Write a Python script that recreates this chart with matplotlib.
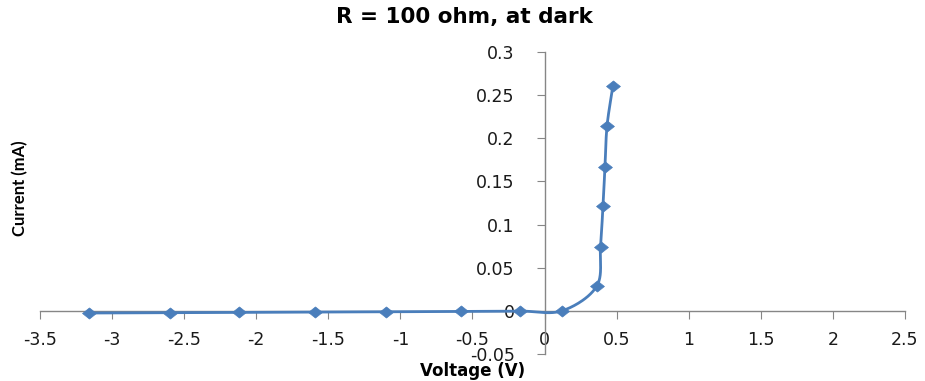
import numpy as np
import matplotlib
matplotlib.use("Agg")
import matplotlib.pyplot as plt

plt.rcParams["axes.unicode_minus"] = False

voltage = [-3.16, -2.60, -2.12, -1.59, -1.10, -0.58, -0.17, 0.12, 0.363, 0.388, 0.405, 0.419, 0.433, 0.474]
current = [-0.0025, -0.0022, -0.0018, -0.0013, -0.0011, -0.0006, -0.0002, 0.0, 0.029, 0.074, 0.121, 0.167, 0.214, 0.261]

title = "R = 100 ohm, at dark"
xlabel = "Voltage (V)"
ylabel = "Current (mA)"
xticks = np.arange(-3.5, 2.51, 0.5)
yticks = np.arange(-0.05, 0.301, 0.05)

FONT = "DejaVu Sans"
COLOR = "#4A7EBB"


def centripetal_cr(x, y, sx, sy, n=40, alpha=0.5):
    p = np.column_stack([np.asarray(x) * sx, np.asarray(y) * sy])
    p = np.vstack([2 * p[0] - p[1], p, 2 * p[-1] - p[-2]])
    out = []
    for i in range(1, len(p) - 2):
        P0, P1, P2, P3 = p[i - 1], p[i], p[i + 1], p[i + 2]
        t0 = 0.0
        t1 = t0 + np.linalg.norm(P1 - P0) ** alpha
        t2 = t1 + np.linalg.norm(P2 - P1) ** alpha
        t3 = t2 + np.linalg.norm(P3 - P2) ** alpha
        t = np.linspace(t1, t2, n)[:, None]
        A1 = (t1 - t) / (t1 - t0) * P0 + (t - t0) / (t1 - t0) * P1
        A2 = (t2 - t) / (t2 - t1) * P1 + (t - t1) / (t2 - t1) * P2
        A3 = (t3 - t) / (t3 - t2) * P2 + (t - t2) / (t3 - t2) * P3
        B1 = (t2 - t) / (t2 - t0) * A1 + (t - t0) / (t2 - t0) * A2
        B2 = (t3 - t) / (t3 - t1) * A2 + (t - t1) / (t3 - t1) * A3
        C = (t2 - t) / (t2 - t1) * B1 + (t - t1) / (t2 - t1) * B2
        out.append(C)
    s = np.vstack(out)
    return s[:, 0] / sx, s[:, 1] / sy


fig = plt.figure(figsize=(9.25, 3.81), dpi=100)
ax = fig.add_axes([40 / 925, 1 - 354 / 381, 865 / 925, 302 / 381])
ax.set_xlim(-3.5, 2.5)
ax.set_ylim(-0.05, 0.3)

# smooth in pixel space (scales = pixels per data unit)
cx, cy = centripetal_cr(voltage, current, 865 / 6.0, 302 / 0.35)
ax.plot(cx, cy, color=COLOR, lw=2, zorder=3, solid_capstyle="round")
diamond = [(-1.25, 0), (0, 1), (1.25, 0), (0, -1), (-1.25, 0)]
ax.plot(voltage, current, linestyle="none", marker=diamond, markersize=10,
        color=COLOR, markeredgecolor=COLOR, markeredgewidth=0.5, zorder=4, clip_on=False)

for s in ["top", "right"]:
    ax.spines[s].set_visible(False)
ax.spines["left"].set_position(("data", 0))
ax.spines["bottom"].set_position(("data", 0))
for s in ["left", "bottom"]:
    ax.spines[s].set_color("#868686")
    ax.spines[s].set_linewidth(1)

ax.set_xticks(xticks)
ax.set_yticks(yticks)
ax.set_xticklabels([f"{v:g}" for v in xticks], fontfamily=FONT, fontsize=12.5)
ax.set_yticklabels([f"{v:g}" for v in yticks], fontfamily=FONT, fontsize=12.5)
ax.tick_params(axis="both", direction="out", length=5.5, color="#868686", labelcolor="#1a1a1a")
ax.tick_params(axis="x", pad=9)
ax.tick_params(axis="y", pad=16)
ax.patch.set_visible(False)

fig.text(464 / 925, 1 - 17 / 381, title, ha="center", va="center",
         fontfamily=FONT, fontweight="bold", fontsize=15.5)
fig.text(473 / 925, 1 - 376 / 381, xlabel, ha="center", va="baseline",
         fontfamily=FONT, fontweight="bold", fontsize=12)
fig.text(20 / 925, 1 - 188 / 381, ylabel, ha="center", va="center", rotation=90,
         fontfamily="Lato", fontweight="bold", fontsize=12)

fig.savefig("out.png", dpi=100)
